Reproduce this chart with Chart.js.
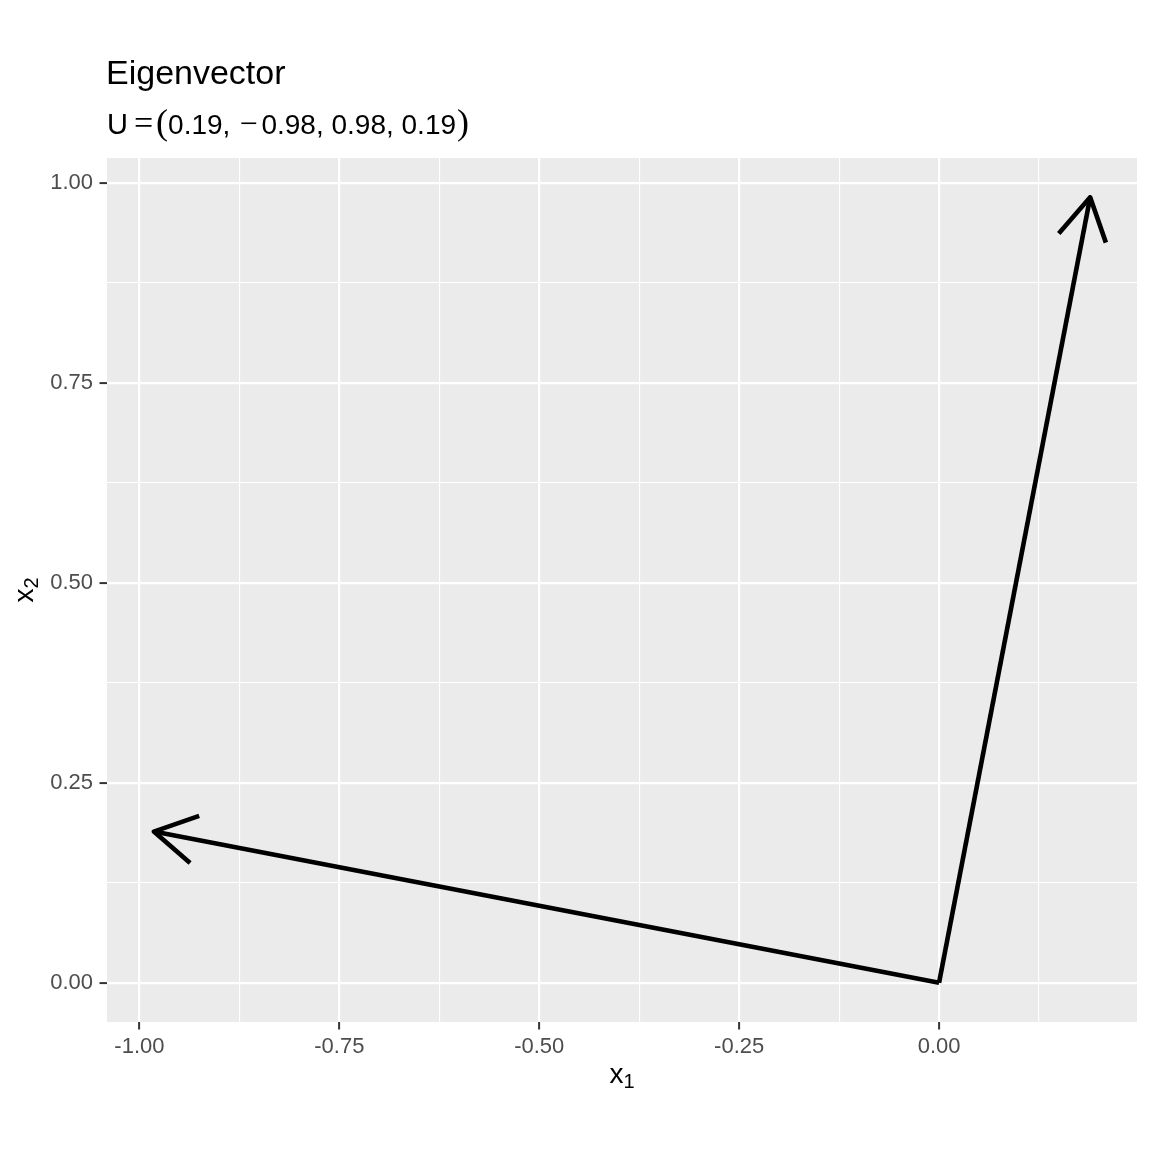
<!DOCTYPE html>
<html>
<head>
<meta charset="utf-8">
<title>Eigenvector</title>
<script src="https://cdn.jsdelivr.net/npm/chart.js@4.4.0/dist/chart.umd.min.js"></script>
<style>
  html, body { margin: 0; padding: 0; background: #fff; }
  canvas { display: block; }
</style>
</head>
<body>
<canvas id="eigenChart" width="1152" height="1152"></canvas>
<script>
// columns of U, drawn as arrows from the origin
const vectorNames = ['u1', 'u2'];
const vectorX = [0.189, -0.982];
const vectorY = [0.982, 0.189];

const xTicks = [-1, -0.75, -0.5, -0.25, 0];
const xTickLabels = ['-1.00', '-0.75', '-0.50', '-0.25', '0.00'];
const xMinor = [-0.875, -0.625, -0.375, -0.125, 0.125];

const yTicks = [0, 0.25, 0.5, 0.75, 1];
const yTickLabels = ['0.00', '0.25', '0.50', '0.75', '1.00'];
const yMinor = [0.125, 0.375, 0.625, 0.875];

const titleText = 'Eigenvector';
const subtitleNumbers = ['0.19,', '0.98, 0.98, 0.19'];

const SANS = '"Liberation Sans", Arial, sans-serif';
const SERIF = '"Liberation Serif", "Times New Roman", serif';

// ggplot style 5% expansion around the data (origin included)
function padRange(values) {
    const lo = Math.min(0, ...values);
    const hi = Math.max(0, ...values);
    const pad = (hi - lo) * 0.05;
    return [lo - pad, hi + pad];
}

function axisOptions(range, majors, labels, minors, isX) {
    const all = majors.concat(minors).sort((a, b) => a - b);
    const isMajor = c => c.tick && majors.indexOf(c.tick.value) >= 0;
    return {
        type: 'linear',
        position: isX ? 'bottom' : 'left',
        min: range[0],
        max: range[1],
        afterBuildTicks: scale => { scale.ticks = all.map(v => ({ value: v })); },
        afterFit: scale => {
            if (isX) scale.height = 130;
            else scale.width = 107;
        },
        border: { display: false },
        grid: {
            color: '#FFFFFF',
            lineWidth: c => isMajor(c) ? 2.2 : 1.1,
            tickColor: c => isMajor(c) ? '#333333' : 'rgba(0,0,0,0)',
            tickWidth: 2,
            tickLength: 7.5
        },
        ticks: {
            color: '#4D4D4D',
            font: { family: SANS, size: 22 },
            padding: isX ? 4 : 6.5,
            autoSkip: false,
            maxRotation: 0,
            callback: value => {
                const i = majors.indexOf(value);
                return i >= 0 ? labels[i] : '';
            }
        }
    };
}

const panelBackground = {
    id: 'panelBackground',
    beforeDraw(chart) {
        const { ctx, chartArea: a } = chart;
        ctx.save();
        ctx.fillStyle = '#FFFFFF';
        ctx.fillRect(0, 0, chart.width, chart.height);
        ctx.fillStyle = '#EBEBEB';
        ctx.fillRect(a.left, a.top, a.right - a.left, a.bottom - a.top);
        ctx.restore();
    }
};

// open arrow heads, 30 degrees, fixed pixel length like grid::arrow()
const arrowHeads = {
    id: 'arrowHeads',
    afterDatasetsDraw(chart) {
        const ctx = chart.ctx;
        chart.data.datasets.forEach((ds, i) => {
            const pts = chart.getDatasetMeta(i).data;
            const from = pts[0], to = pts[1];
            const ang = Math.atan2(to.y - from.y, to.x - from.x);
            const len = 48, spread = Math.PI / 6;
            ctx.save();
            ctx.strokeStyle = ds.borderColor;
            ctx.lineWidth = ds.borderWidth;
            ctx.lineJoin = 'round';
            ctx.lineCap = 'butt';
            ctx.beginPath();
            ctx.moveTo(to.x - len * Math.cos(ang - spread), to.y - len * Math.sin(ang - spread));
            ctx.lineTo(to.x, to.y);
            ctx.lineTo(to.x - len * Math.cos(ang + spread), to.y - len * Math.sin(ang + spread));
            ctx.stroke();
            ctx.restore();
        });
    }
};

// title, plotmath-like subtitle and subscripted axis titles
const labelText = {
    id: 'labelText',
    afterDraw(chart) {
        const { ctx, chartArea: a } = chart;
        ctx.save();
        ctx.fillStyle = '#000000';
        ctx.textBaseline = 'alphabetic';
        ctx.textAlign = 'left';

        ctx.font = '34px ' + SANS;
        ctx.fillText(titleText, 106, 84);

        let x = 107;
        const base = 134;
        const piece = (text, font, gapAfter) => {
            ctx.font = font;
            ctx.fillText(text, x, base);
            x += ctx.measureText(text).width + gapAfter;
        };
        piece('U', '29px ' + SANS, 6);
        piece('=', '34px ' + SERIF, 3);
        piece('(', '36px ' + SERIF, 0);
        piece(subtitleNumbers[0], '28px ' + SANS, 9);
        piece('\u2212', '32px ' + SERIF, 4);
        piece(subtitleNumbers[1], '28px ' + SANS, 1);
        piece(')', '36px ' + SERIF, 0);

        // x axis title
        const cx = (a.left + a.right) / 2;
        ctx.font = '28px ' + SANS;
        const wx = ctx.measureText('x').width;
        ctx.font = '20px ' + SANS;
        const w1 = ctx.measureText('1').width;
        const sx = cx - (wx + w1) / 2;
        ctx.font = '28px ' + SANS;
        ctx.fillText('x', sx, 1083);
        ctx.font = '20px ' + SANS;
        ctx.fillText('1', sx + wx, 1088);

        // y axis title, rotated
        const cy = (a.top + a.bottom) / 2;
        ctx.translate(33, cy);
        ctx.rotate(-Math.PI / 2);
        ctx.font = '20px ' + SANS;
        const w2 = ctx.measureText('2').width;
        const sy = -(wx + w2) / 2;
        ctx.font = '28px ' + SANS;
        ctx.fillText('x', sy, 0);
        ctx.font = '20px ' + SANS;
        ctx.fillText('2', sy + wx, 5);
        ctx.restore();
    }
};

const xRange = padRange(vectorX);
const yRange = padRange(vectorY);

const datasets = vectorNames.map((name, i) => ({
    label: name,
    data: [{ x: 0, y: 0 }, { x: vectorX[i], y: vectorY[i] }],
    showLine: true,
    borderColor: '#000000',
    borderWidth: 4.6,
    borderCapStyle: 'butt',
    pointRadius: 0,
    pointHoverRadius: 0,
    fill: false
}));

new Chart(document.getElementById('eigenChart').getContext('2d'), {
    type: 'scatter',
    data: { datasets: datasets },
    options: {
        responsive: false,
        animation: false,
        devicePixelRatio: 1,
        events: [],
        layout: { padding: { top: 158, right: 15, left: 0, bottom: 0 } },
        scales: {
            x: axisOptions(xRange, xTicks, xTickLabels, xMinor, true),
            y: axisOptions(yRange, yTicks, yTickLabels, yMinor, false)
        },
        plugins: {
            legend: { display: false },
            tooltip: { enabled: false }
        }
    },
    plugins: [panelBackground, arrowHeads, labelText]
});
</script>
</body>
</html>
